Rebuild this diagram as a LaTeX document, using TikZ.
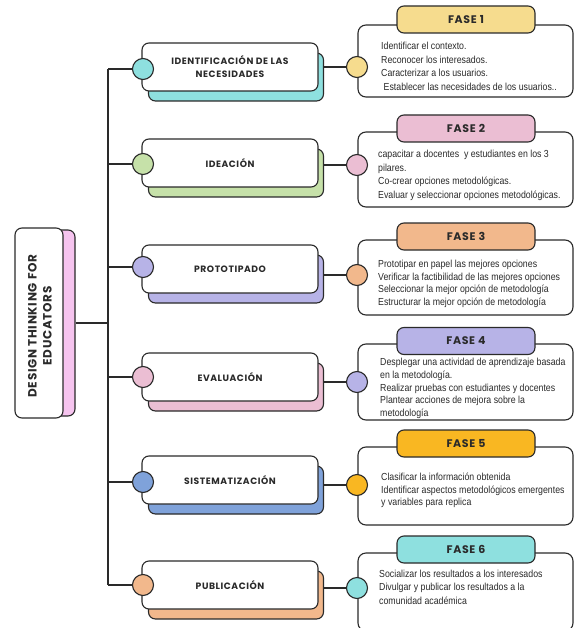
\documentclass[tikz,border=0pt]{standalone}
\usepackage{fontspec}
\setmainfont{Liberation Sans}
\newfontfamily\hand{Poppins}[LetterSpace=6]
\newfontfamily\body{Liberation Sans}[FakeStretch=0.86]
\definecolor{ink}{HTML}{2A2A2A}
\definecolor{cteal}{HTML}{8EE0DF}
\definecolor{cyel}{HTML}{F6DC8E}
\definecolor{cgreen}{HTML}{C6E1A9}
\definecolor{cpink}{HTML}{EBBED3}
\definecolor{clav}{HTML}{B7B3E7}
\definecolor{cpeach}{HTML}{F2B88C}
\definecolor{corange}{HTML}{F9B722}
\definecolor{cblue}{HTML}{7FA2DA}
\definecolor{ctitle}{HTML}{F6C4EF}
\tikzset{
  ln/.style={draw=ink, line width=1.1pt},
  conn/.style={draw=ink, line width=1.1pt},
  front/.style={ln, fill=white, rounded corners=7pt, minimum width=176pt, minimum height=48pt, inner sep=0pt},
  shadowbox/.style={ln, fill=#1, rounded corners=7pt, minimum width=175pt, minimum height=48pt, inner sep=0pt},
  dot/.style={ln, fill=#1, circle, minimum size=21pt, inner sep=0pt},
  phasebox/.style={ln, fill=white, rounded corners=8pt, minimum width=215pt, inner sep=0pt},
  tab/.style={ln, fill=#1, rounded corners=7pt, minimum width=138pt, minimum height=27pt, inner sep=0pt},
  lbl/.style={font=\hand\bfseries\fontsize{9.2}{13}\selectfont, align=center, text=ink},
  tablbl/.style={font=\hand\bfseries\fontsize{11}{12}\selectfont, text=ink},
  txt/.style={font=\body\fontsize{10.2}{13.6}\selectfont, align=left, anchor=north west, inner sep=0pt, text=ink},
}
\begin{document}
\begin{tikzpicture}[x=1pt,y=-1pt]
\useasboundingbox (0,0) rectangle (575,628);
\fill[white] (0,0) rectangle (575,628);

% title
\node[ln, fill=ctitle, rounded corners=7pt, minimum width=48pt, minimum height=186pt] (tsh) at (51,323) {};
\node[ln, fill=white, rounded corners=7pt, minimum width=48pt, minimum height=190pt, inner sep=0pt] (title) at (39,323) {};
\node[rotate=90, font=\hand\bfseries\fontsize{12}{15}\selectfont, align=center, text=ink] (tt) at (40,326) {DESIGN THINKING FOR\\EDUCATORS};

% trunk
\coordinate (ttop) at (108,69);
\coordinate (tbot) at (108,585);
\coordinate (tmid) at (108,323);
\draw[conn] (ttop) -- (tbot);
\draw[conn] (tsh.east) -- (tmid);

% branch boxes
\node[shadowbox=cteal] (s1) at (236,77) {};
\node[front] (b1) at (230,67) {};
\node[lbl] at (b1.center) {IDENTIFICACIÓN DE LAS\\NECESIDADES};
\node[dot=cteal] (c1) at (143,69) {};

\node[shadowbox=cgreen] (s2) at (236,173) {};
\node[front] (b2) at (230,163) {};
\node[lbl] at (b2.center) {IDEACIÓN};
\node[dot=cgreen] (c2) at (143,164) {};

\node[shadowbox=clav] (s3) at (236,279) {};
\node[front] (b3) at (230,269) {};
\node[lbl] at (b3.center) {PROTOTIPADO};
\node[dot=clav] (c3) at (143,267) {};

\node[shadowbox=cpink] (s4) at (236,387) {};
\node[front] (b4) at (230,377) {};
\node[lbl] at (b4.center) {EVALUACIÓN};
\node[dot=cpink] (c4) at (143,377) {};

\node[shadowbox=cblue] (s5) at (236,490) {};
\node[front] (b5) at (230,480) {};
\node[lbl] at (b5.center) {SISTEMATIZACIÓN};
\node[dot=cblue] (c5) at (143,482) {};

\node[shadowbox=cpeach] (s6) at (236,595) {};
\node[front] (b6) at (230,585) {};
\node[lbl] at (b6.center) {PUBLICACIÓN};
\node[dot=cpeach] (c6) at (143,585) {};

% trunk to branch
\foreach \i/\y in {1/69,2/164,3/267,4/377,5/482,6/585}{
  \coordinate (k\i) at (108,\y);
  \draw[conn] (k\i) -- (c\i.west);
}

% phases
\node[phasebox, minimum height=72pt] (p1) at (465.5,61) {};
\node[tab=cyel] (f1) at (466,19.5) {};
\node[tablbl] at (f1.center) {FASE 1};
\node[dot=cyel] (q1) at (357,67) {};
\node[txt] at (381,42) {Identificar el contexto.\\Reconocer los interesados.\\Caracterizar a los usuarios.\\\hspace*{2.5pt}Establecer las necesidades de los usuarios..};

\node[phasebox, minimum height=75pt] (p2) at (465.5,169.5) {};
\node[tab=cpink] (f2) at (466,128.5) {};
\node[tablbl] at (f2.center) {FASE 2};
\node[dot=cpink] (q2) at (357,165) {};
\node[txt] at (378,150) {capacitar a docentes\ \ y estudiantes en los 3\\pilares.\\Co-crear opciones metodológicas.\\Evaluar y seleccionar opciones metodológicas.};

\node[phasebox, minimum height=75pt] (p3) at (465.5,277.5) {};
\node[tab=cpeach] (f3) at (466,236.5) {};
\node[tablbl] at (f3.center) {FASE 3};
\node[dot=cpeach] (q3) at (357,275) {};
\node[txt, font=\body\fontsize{10.2}{12.7}\selectfont] at (378,260) {Prototipar en papel las mejores opciones\\Verificar la factibilidad de las mejores opciones\\Seleccionar la mejor opción de metodología\\Estructurar la mejor opción de metodología};

\node[phasebox, minimum height=76pt] (p4) at (465.5,382) {};
\node[tab=clav] (f4) at (466,341) {};
\node[tablbl] at (f4.center) {FASE 4};
\node[dot=clav] (q4) at (357,382) {};
\node[txt, font=\body\fontsize{10.2}{12.8}\selectfont] at (380,358) {Desplegar una actividad de aprendizaje basada\\en la metodología.\\Realizar pruebas con estudiantes y docentes\\Plantear acciones de mejora sobre la\\metodología};

\node[phasebox, minimum height=78pt] (p5) at (465.5,486) {};
\node[tab=corange] (f5) at (466,443.5) {};
\node[tablbl] at (f5.center) {FASE 5};
\node[dot=corange] (q5) at (357,485) {};
\node[txt, font=\body\fontsize{10.2}{12.6}\selectfont] at (381,473) {Clasificar la información obtenida\\Identificar aspectos metodológicos emergentes\\y variables para replica};

\node[phasebox, minimum height=78pt] (p6) at (465.5,592) {};
\node[tab=cteal] (f6) at (466,549.5) {};
\node[tablbl] at (f6.center) {FASE 6};
\node[dot=cteal] (q6) at (357,588) {};
\node[txt, font=\body\fontsize{10.2}{13.4}\selectfont] at (379,570) {Socializar los resultados a los interesados\\Divulgar y publicar los resultados a la\\comunidad académica};

% branch to phase connectors
\foreach \i in {1,...,6}{
  \draw[conn] (s\i.east |- q\i) -- (q\i.west);
}
\end{tikzpicture}
\end{document}
